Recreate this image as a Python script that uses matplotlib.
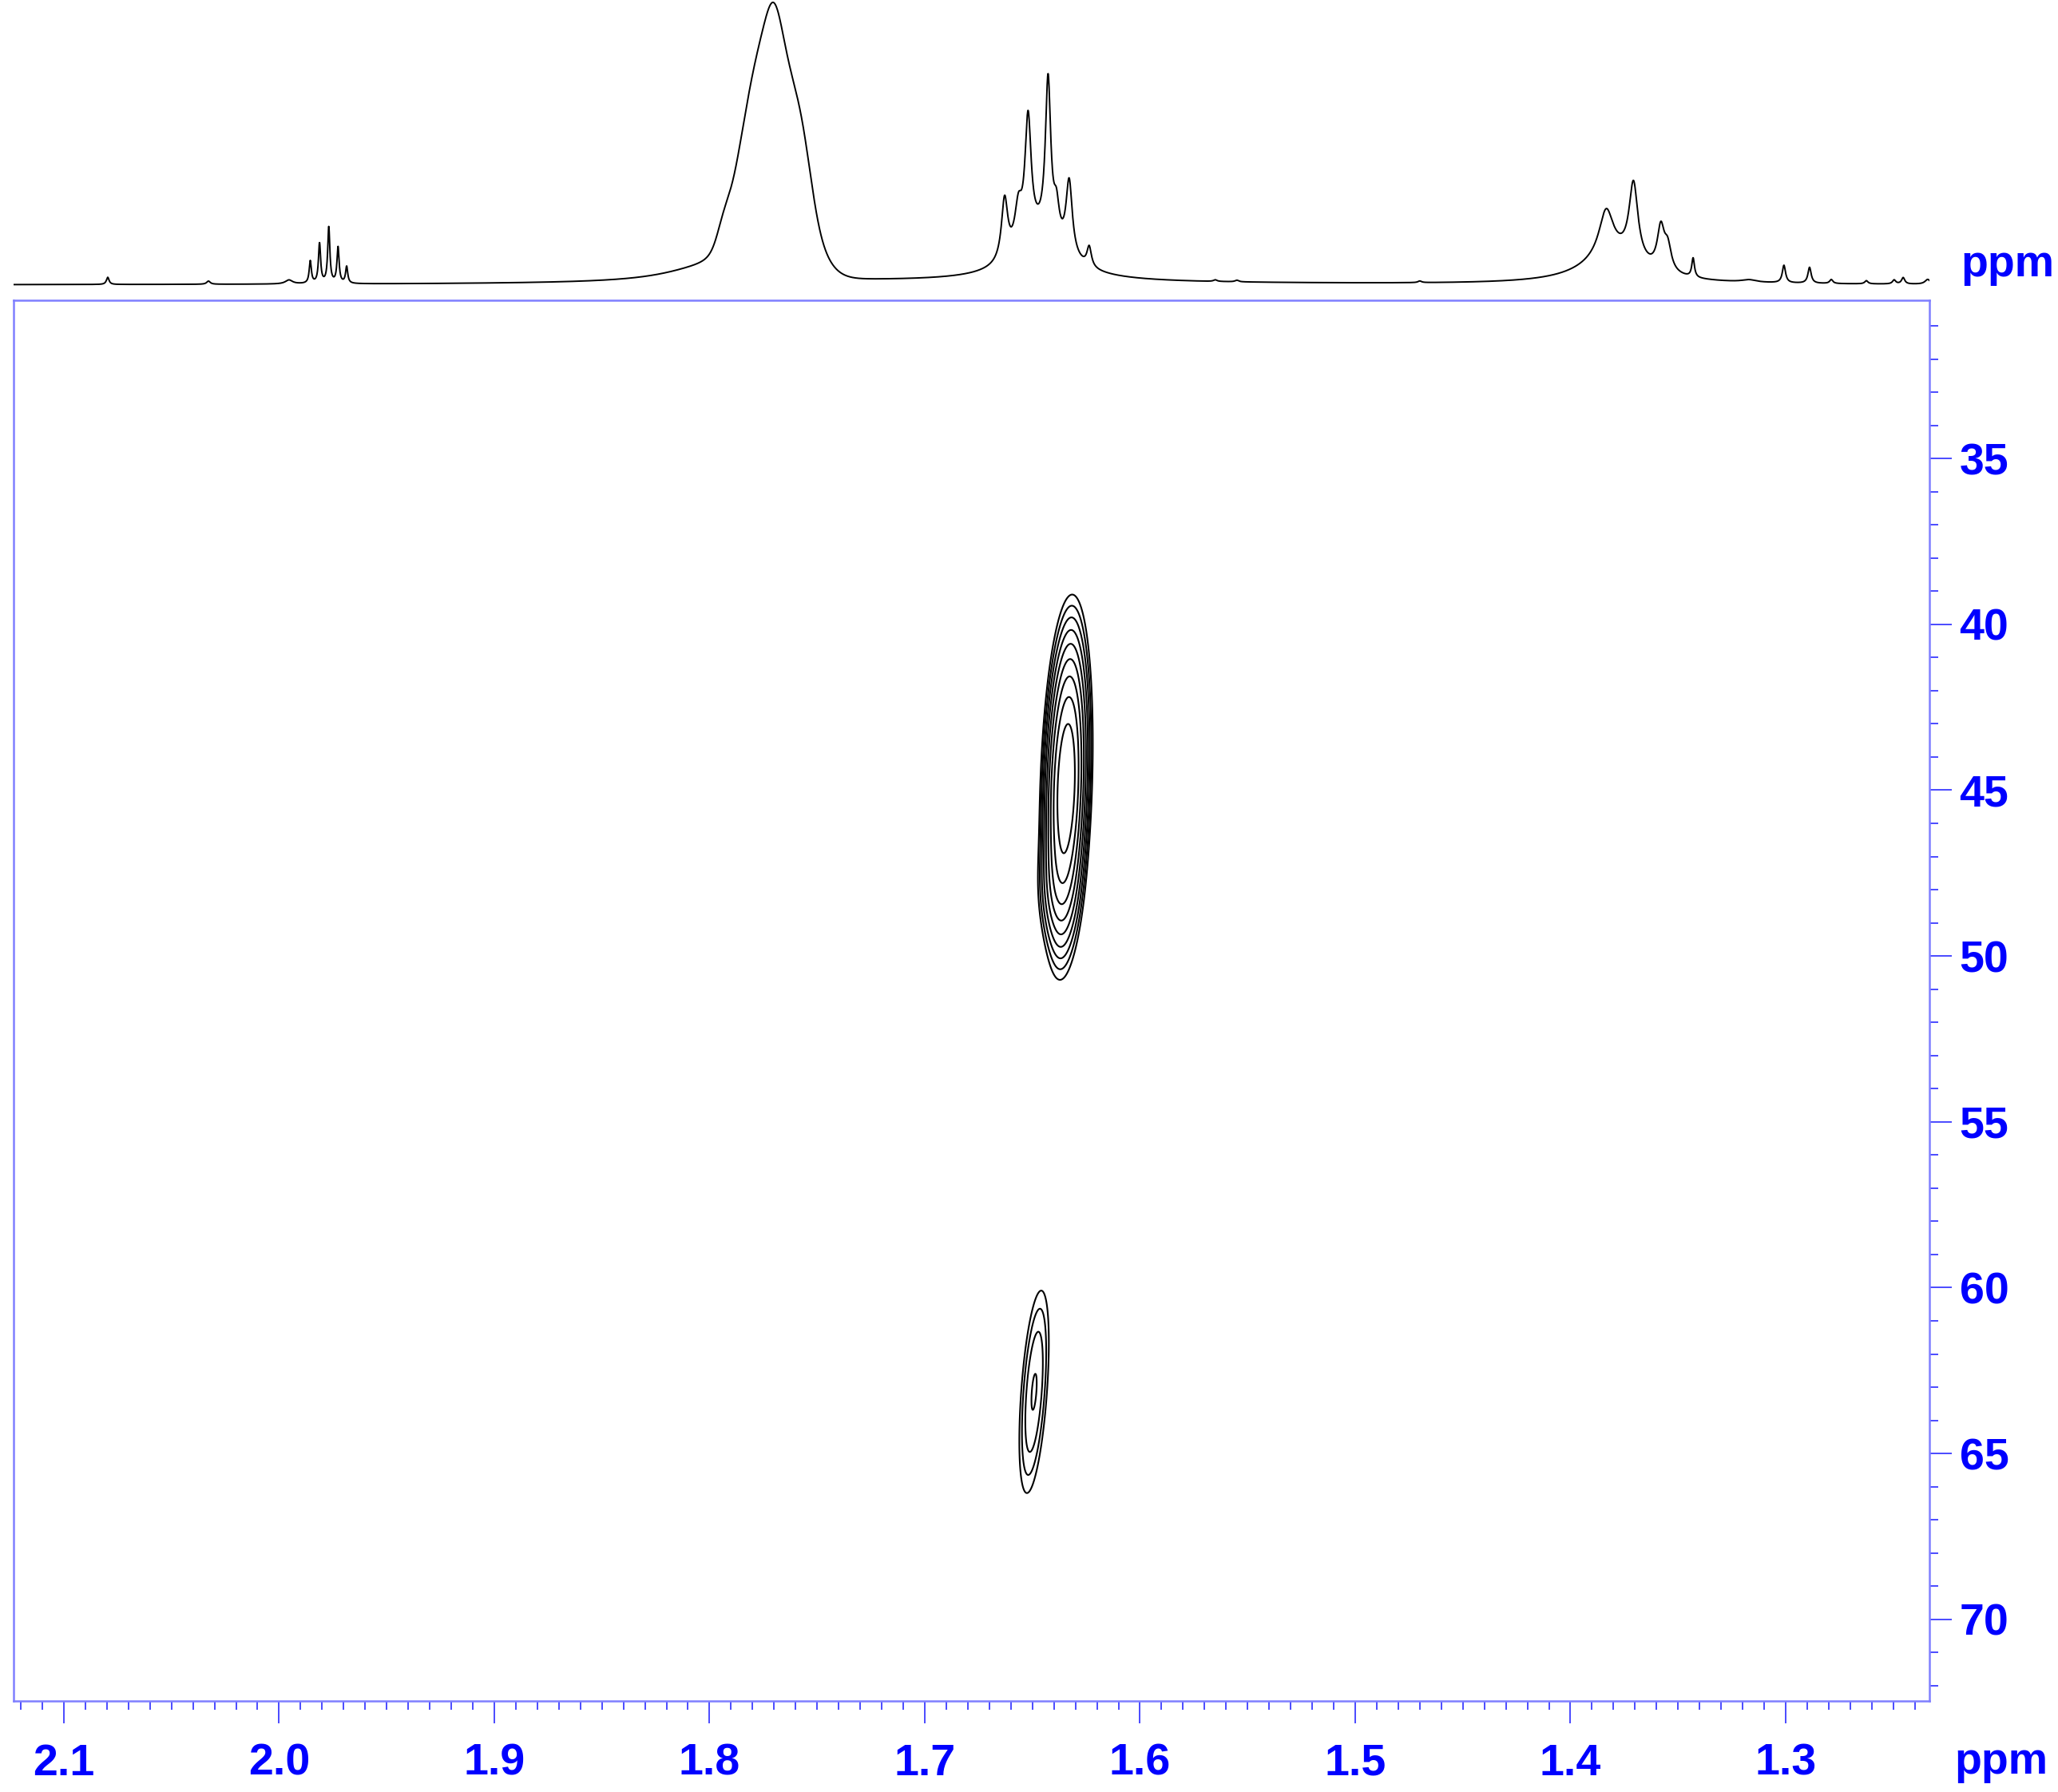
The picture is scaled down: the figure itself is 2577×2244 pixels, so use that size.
import numpy as np
import matplotlib
matplotlib.use('Agg')
import matplotlib.pyplot as plt
from matplotlib.ticker import MultipleLocator, FormatStrFormatter

plt.rcParams['font.family'] = ['Liberation Sans', 'DejaVu Sans']

# 1H trace on top: line positions (ppm), heights, widths (fwhm, ppm), shape
# shapes: L = Lorentzian, G = Gaussian
h_shift = [2.0796, 2.0328, 1.9954,
           1.9855, 1.9812, 1.9769, 1.9726, 1.9686,
           1.7702, 1.7700, 1.7565, 1.7830, 1.7935, 1.8010, 1.7000,
           1.6629, 1.6565, 1.6520, 1.6427, 1.6388, 1.6329, 1.6236, 1.6460,
           1.5650, 1.5550, 1.4700,
           1.3834, 1.3707, 1.3580, 1.3548, 1.3430, 1.3800,
           1.3170, 1.3008, 1.2889, 1.2788, 1.2625, 1.2496, 1.2454, 1.2340]
h_height = [9, 4, 5,
            28, 50, 70, 45, 21,
            305, 30, 40, 40, 18, 22, 4,
            76, 48, 152, 194, 38, 92, 25, 55,
            2, 2, 2,
            57, 96, 52, 30, 24, 35,
            3, 22, 20, 5, 4, 5, 8, 6]
h_fwhm = [0.0015, 0.002, 0.004,
          0.0012, 0.0012, 0.0012, 0.0012, 0.0012,
          0.027, 0.008, 0.010, 0.016, 0.007, 0.045, 0.3,
          0.0035, 0.004, 0.0035, 0.003, 0.003, 0.0035, 0.0025, 0.028,
          0.002, 0.002, 0.002,
          0.008, 0.005, 0.004, 0.004, 0.0015, 0.035,
          0.008, 0.0018, 0.0018, 0.0018, 0.0018, 0.0018, 0.0018, 0.003]
h_shape = ['L', 'L', 'L',
           'L', 'L', 'L', 'L', 'L',
           'G', 'G', 'G', 'G', 'G', 'L', 'L',
           'L', 'L', 'L', 'L', 'L', 'L', 'L', 'L',
           'L', 'L', 'L',
           'L', 'L', 'L', 'L', 'L', 'L',
           'L', 'L', 'L', 'L', 'L', 'L', 'L', 'L']

# 2D cross peaks: F2 (1H) and F1 (13C) centre, height, widths, skew
c_x = [1.6343, 1.6400, 1.6492]
c_y = [44.9, 48.0, 63.14]
c_amp = [1.0, 0.06, 0.172]
c_sx = [0.0052, 0.0060, 0.0044]
c_sy = [2.5, 1.0, 2.24]
c_tilt = [0.000484, 0.0, 0.00109]
levels = [0.068, 0.092, 0.124, 0.167, 0.226, 0.305, 0.412, 0.556, 0.75]

x_ticks = [2.1, 2.0, 1.9, 1.8, 1.7, 1.6, 1.5, 1.4, 1.3]
y_ticks = [35, 40, 45, 50, 55, 60, 65, 70]
xlim = (2.1235, 1.2332)
ylim = (72.46, 30.23)

W, H = 2577, 2244
fig = plt.figure(figsize=(W / 100, H / 100), dpi=100)
blue = '#0000ff'
frame = '#7f7fff'

ax = fig.add_axes([16.6 / W, (H - 2130) / H, (2416 - 16.6) / W, (2130 - 376) / H])
ax1 = fig.add_axes([16.6 / W, (H - 370) / H, (2416 - 16.6) / W, 370 / H])

# 1D trace
xs = np.linspace(xlim[0], xlim[1], 8000)
spec = np.zeros_like(xs)
for c, h, w, s in zip(h_shift, h_height, h_fwhm, h_shape):
    d = 2 * (xs - c) / w
    if s == 'G':
        spec += h * np.exp(-np.log(2) * d ** 2)
    else:
        spec += h / (1 + d ** 2)
ax1.plot(xs, spec, color='black', lw=1.4)
ax1.set_xlim(*xlim)
ax1.set_ylim(-13, 357)
ax1.axis('off')

# contour map
gx = np.linspace(1.59, 1.69, 700)
gy = np.linspace(34, 70, 900)
X, Y = np.meshgrid(gx, gy)
Z = np.zeros_like(X)
for cx, cy, a, sx, sy, k in zip(c_x, c_y, c_amp, c_sx, c_sy, c_tilt):
    u = X - cx - k * (Y - cy)
    Z += a * np.exp(-0.5 * (u / sx) ** 2 - 0.5 * ((Y - cy) / sy) ** 2)
ax.contour(X, Y, Z, levels=levels, colors='black', linewidths=1.5)

ax.set_xlim(*xlim)
ax.set_ylim(*ylim)
ax.set_xticks(x_ticks)
ax.set_yticks(y_ticks)
ax.xaxis.set_major_formatter(FormatStrFormatter('%.1f'))
ax.xaxis.set_minor_locator(MultipleLocator(0.01))
ax.yaxis.set_minor_locator(MultipleLocator(1))
ax.yaxis.tick_right()
ax.tick_params(which='both', direction='out', color='#4a4aff', width=1.4,
               labelcolor=blue, labelsize=40)
ax.tick_params(which='major', length=20)
ax.tick_params(which='minor', length=8)
ax.tick_params(axis='x', which='major', pad=18)
ax.tick_params(axis='y', which='major', pad=7)
ax.tick_params(top=False, left=False, which='both')
for lab in ax.get_xticklabels() + ax.get_yticklabels():
    lab.set_fontweight('bold')
for sp in ax.spines.values():
    sp.set_color(frame)
    sp.set_linewidth(1.8)

fig.text(2455 / W, (H - 346) / H, 'ppm', color=blue, fontsize=40,
         fontweight='bold', ha='left', va='baseline')
fig.text(2447 / W, (H - 2221) / H, 'ppm', color=blue, fontsize=40,
         fontweight='bold', ha='left', va='baseline')

fig.savefig('out.png', dpi=100, facecolor='white')
